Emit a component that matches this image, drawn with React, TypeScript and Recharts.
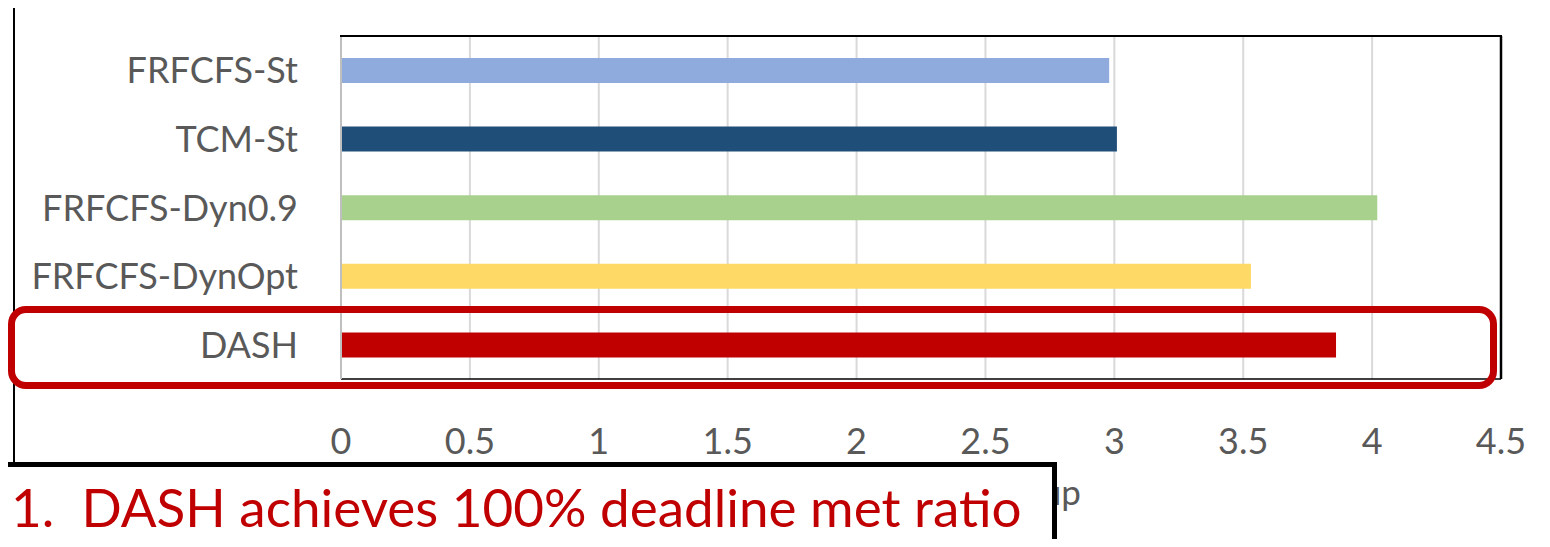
import { BarChart, Bar, Cell, XAxis, YAxis, CartesianGrid, ReferenceLine } from 'recharts'

const categories = ['FRFCFS-St', 'TCM-St', 'FRFCFS-Dyn0.9', 'FRFCFS-DynOpt', 'DASH']
const speedups = [2.98, 3.01, 4.02, 3.53, 3.86]
const barColors = ['#8FAADC', '#1F4E79', '#A9D18E', '#FFD966', '#C00000']
const xTicks = [0, 0.5, 1, 1.5, 2, 2.5, 3, 3.5, 4, 4.5]

const data = categories.map((name, i) => ({ name, value: speedups[i] }))

const FONT = 'Lato, "Open Sans", sans-serif'
const GREY = '#595959'

const XTick = ({ x, y, payload }: any) => (
  <text x={x} y={y + 67} textAnchor="middle" fill={GREY} fontSize={36} fontFamily={FONT}>
    {payload.value}
  </text>
)

const YTick = ({ x, y, payload }: any) => (
  <text x={x - 35} y={y + 13} textAnchor="end" fill={GREY} fontSize={36} fontFamily={FONT}>
    {payload.value}
  </text>
)

export default function App() {
  return (
    <div style={{ position: 'relative', width: 1550, height: 547, margin: -8, background: '#fff', overflow: 'hidden', fontFamily: FONT }}>
      {/* outer frame */}
      <div style={{ position: 'absolute', left: 13, top: 5, width: 1540, height: 470, borderLeft: '2px solid #000', borderTop: '3px solid #000' }} />

      <div style={{ position: 'absolute', left: 0, top: 0 }}>
        <BarChart
          width={1550}
          height={547}
          data={data}
          layout="vertical"
          margin={{ top: 36, right: 49, left: 0, bottom: 88 }}
          barCategoryGap={0}
        >
          <CartesianGrid horizontal={false} stroke="#D9D9D9" strokeWidth={2} />
          <XAxis
            type="number"
            domain={[0, 4.5]}
            ticks={xTicks}
            axisLine={{ stroke: '#000', strokeWidth: 1.5 }}
            tickLine={false}
            tick={<XTick />}
            height={80}
            interval={0}
          />
          <YAxis
            type="category"
            dataKey="name"
            width={341}
            axisLine={{ stroke: '#BFBFBF', strokeWidth: 2 }}
            tickLine={false}
            tick={<YTick />}
            interval={0}
          />
          <ReferenceLine x={4.5} stroke="#000" strokeWidth={2.5} />
          <Bar dataKey="value" barSize={25} isAnimationActive={false}>
            {data.map((d, i) => (
              <Cell key={d.name} fill={barColors[i]} />
            ))}
          </Bar>
        </BarChart>
      </div>

      {/* plot area top border */}
      <div style={{ position: 'absolute', left: 340, top: 35, width: 1162, height: 0, borderTop: '2.5px solid #000' }} />

      {/* axis title, mostly covered by the callout box */}
      <div style={{ position: 'absolute', right: 1550 - 1081, top: 470, fontSize: 35, color: GREY, whiteSpace: 'nowrap' }}>
        Weighted Speedup
      </div>

      {/* highlight around DASH */}
      <div style={{ position: 'absolute', left: 8, top: 306, width: 1489, height: 83, border: '7px solid #C00000', borderRadius: 18, boxSizing: 'border-box' }} />

      {/* callout */}
      <div
        style={{
          position: 'absolute',
          left: -4,
          top: 462,
          width: 1061,
          height: 88,
          border: '5px solid #000',
          boxSizing: 'border-box',
          background: '#fff',
          color: '#C00000',
          fontSize: 53,
          lineHeight: '80px',
          paddingLeft: 10,
          whiteSpace: 'nowrap',
        }}
      >
        1.&nbsp; DASH achieves 100% deadline met ratio
      </div>
    </div>
  )
}
